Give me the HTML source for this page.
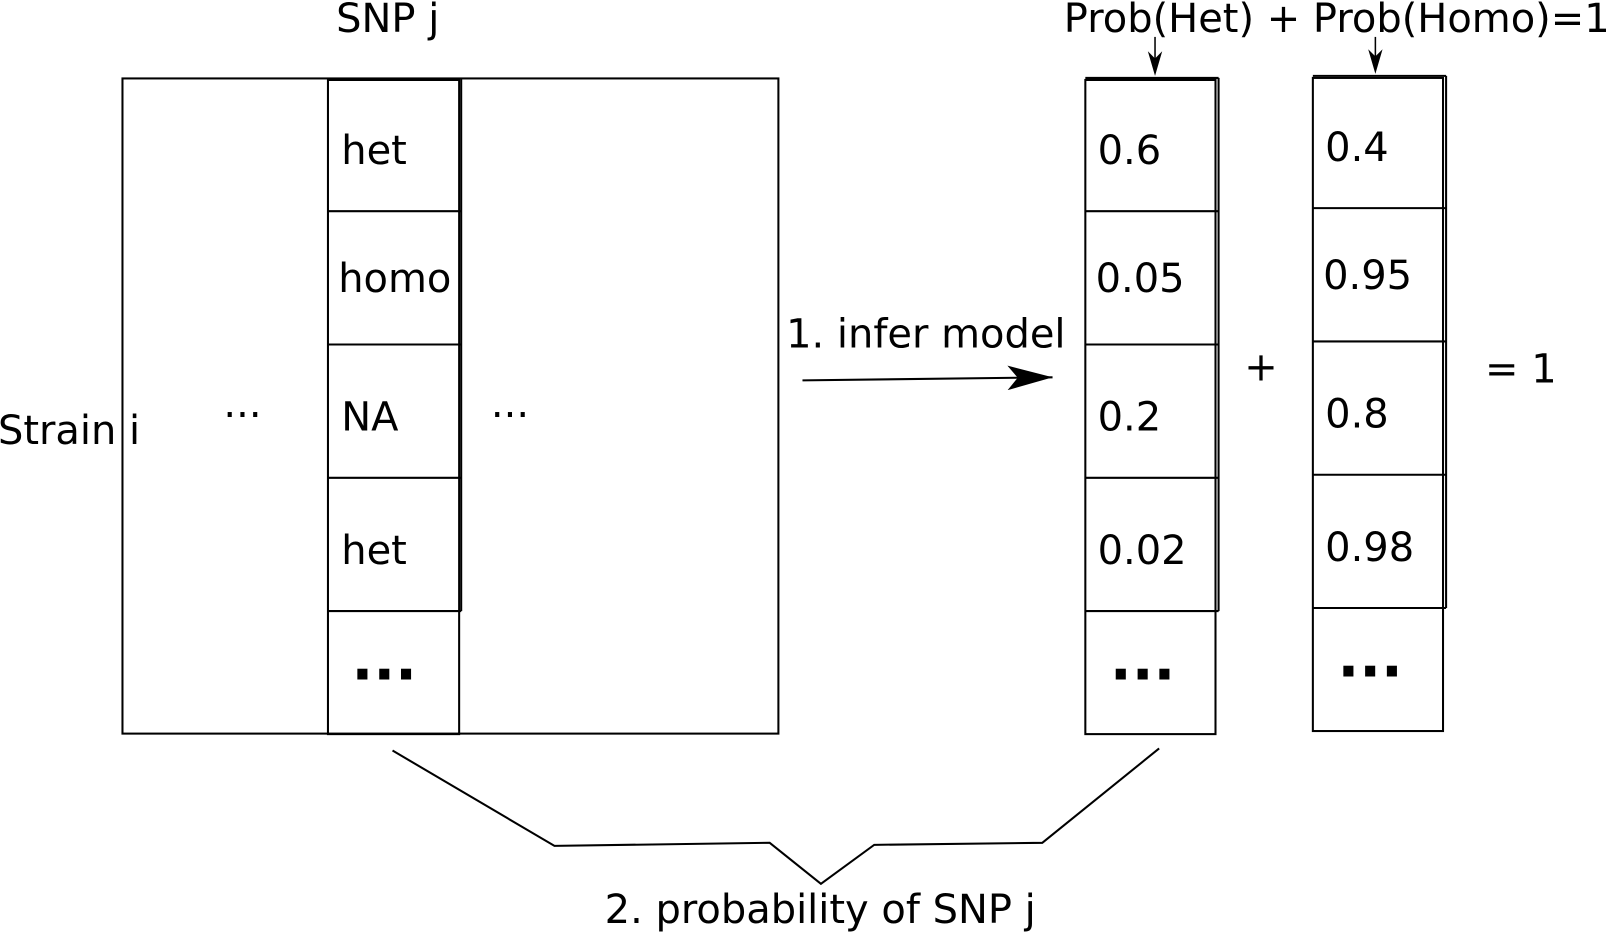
<!DOCTYPE html>
<html><head><meta charset="utf-8"><style>
html,body{margin:0;padding:0;background:#fff;}
svg{display:block;}
text{font-family:"DejaVu Sans","Liberation Sans",sans-serif;font-size:39px;fill:#000;}
</style></head><body>
<svg width="1607" height="932" viewBox="0 0 1568 909" preserveAspectRatio="none" xmlns="http://www.w3.org/2000/svg">
<defs>
<marker id="ahBig" viewBox="0 0 44 24" refX="44" refY="12" markerWidth="44" markerHeight="24" orient="auto" markerUnits="userSpaceOnUse"><path d="M0,0 L44,12 L0,24 L10,12 z" fill="#000"/></marker></defs>
<g fill="none" stroke="#000" stroke-width="2">
<rect x="119.5" y="76.5" width="640" height="639"/>
<rect x="320" y="78" width="128" height="638"/>
<line x1="450" y1="77" x2="450" y2="596"/>
<line x1="320" y1="206" x2="450" y2="206"/>
<line x1="320" y1="336" x2="450" y2="336"/>
<line x1="320" y1="466" x2="450" y2="466"/>
<line x1="320" y1="596" x2="450" y2="596"/>
<rect x="1059" y="78" width="127" height="638"/>
<line x1="1189" y1="76" x2="1189" y2="596"/><line x1="1059" y1="76" x2="1189" y2="76"/>
<line x1="1059" y1="206" x2="1189" y2="206"/>
<line x1="1059" y1="336" x2="1189" y2="336"/>
<line x1="1059" y1="466" x2="1189" y2="466"/>
<line x1="1059" y1="596" x2="1189" y2="596"/>
<rect x="1281" y="76" width="127" height="637"/>
<line x1="1411" y1="74" x2="1411" y2="593"/><line x1="1281" y1="74" x2="1411" y2="74"/>
<line x1="1281" y1="203" x2="1411" y2="203"/>
<line x1="1281" y1="333" x2="1411" y2="333"/>
<line x1="1281" y1="463" x2="1411" y2="463"/>
<line x1="1281" y1="593" x2="1411" y2="593"/>
<line x1="783" y1="371" x2="1027" y2="368" marker-end="url(#ahBig)"/>
<line x1="1127" y1="36" x2="1127" y2="60" stroke-width="1.5"/>
<line x1="1342" y1="36" x2="1342" y2="58" stroke-width="1.5"/>
<polyline points="383,732 541,825 751,822 801,862 853,824 1017,822 1131,730"/>
</g>
<path d="M1120,50 L1127,74 L1134,50 L1127,57 z" fill="#000"/>
<path d="M1335,48 L1342,72 L1349,48 L1342,55 z" fill="#000"/>
<text x="328" y="31">SNP j</text>
<text x="-2" y="433">Strain i</text>
<text x="218" y="418">···</text>
<text x="479" y="418">···</text>
<text x="333" y="160">het</text>
<text x="330" y="285">homo</text>
<text x="333" y="420">NA</text>
<text x="333" y="550">het</text>
<text x="343" y="677" style="font-weight:bold;font-size:56px">···</text>
<text x="1071" y="160">0.6</text>
<text x="1069" y="285">0.05</text>
<text x="1071" y="420">0.2</text>
<text x="1071" y="550">0.02</text>
<text x="1083" y="677" style="font-weight:bold;font-size:56px">···</text>
<text x="1293" y="157">0.4</text>
<text x="1291" y="282">0.95</text>
<text x="1293" y="417">0.8</text>
<text x="1293" y="547">0.98</text>
<text x="1305" y="674" style="font-weight:bold;font-size:56px">···</text>
<text x="1038" y="31">Prob(Het) + Prob(Homo)=1</text>
<text x="1214" y="371">+</text>
<text x="1449" y="373">= 1</text>
<text x="767" y="339">1. infer model</text>
<text x="590" y="900">2. probability of SNP j</text>
</svg>
</body></html>
